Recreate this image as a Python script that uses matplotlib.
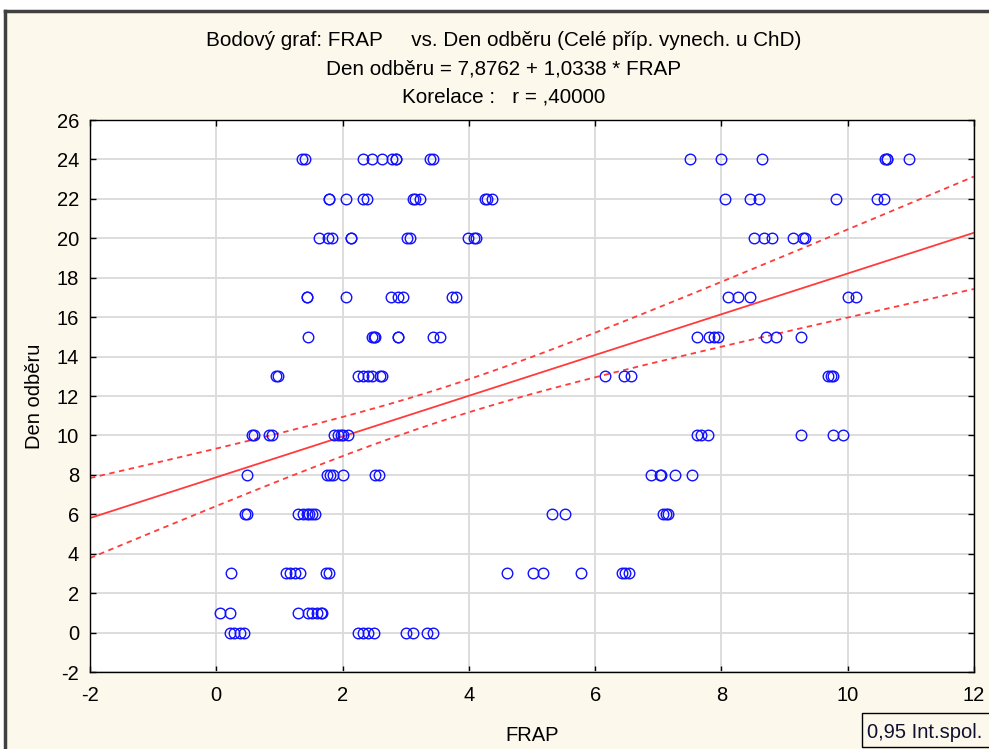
import matplotlib
matplotlib.use("Agg")
import matplotlib.pyplot as plt
from matplotlib.patches import Rectangle
import numpy as np

plt.rcParams['font.family'] = ['Liberation Sans', 'DejaVu Sans']
plt.rcParams['axes.unicode_minus'] = False

# ---- data: FRAP values grouped by "Den odběru" ----
den_levels = [24, 22, 20, 17, 15, 13, 10, 8, 6, 3, 1, 0]
frap_d24 = [1.35, 1.41, 2.33, 2.47, 2.63, 2.79, 2.84, 2.84, 3.39, 3.44, 7.50, 8.00, 8.64, 10.59, 10.62, 10.62, 10.97]
frap_d22 = [1.79, 1.79, 2.06, 2.33, 2.38, 3.11, 3.15, 3.22, 4.25, 4.29, 4.36, 8.05, 8.45, 8.59, 9.81, 10.46, 10.57]
frap_d20 = [1.62, 1.77, 1.84, 2.14, 2.14, 3.02, 3.06, 3.99, 4.08, 4.11, 8.51, 8.67, 8.80, 9.13, 9.29, 9.32]
frap_d17 = [1.43, 1.43, 2.06, 2.76, 2.87, 2.95, 3.74, 3.79, 8.11, 8.26, 8.45, 10.00, 10.13]
frap_d15 = [1.46, 2.47, 2.50, 2.52, 2.87, 2.87, 3.44, 3.55, 7.61, 7.81, 7.89, 7.94, 8.70, 8.87, 9.26]
frap_d13 = [0.94, 0.97, 2.25, 2.33, 2.41, 2.47, 2.60, 2.63, 6.16, 6.45, 6.56, 9.68, 9.73, 9.76]
frap_d10 = [0.57, 0.59, 0.84, 0.88, 1.86, 1.93, 1.98, 2.01, 2.08, 7.62, 7.67, 7.78, 9.26, 9.76, 9.92]
frap_d8 = [0.48, 1.76, 1.80, 1.85, 2.01, 2.52, 2.57, 6.88, 7.02, 7.04, 7.26, 7.53]
frap_d6 = [0.46, 0.48, 1.30, 1.37, 1.44, 1.47, 1.52, 1.57, 5.31, 5.53, 7.07, 7.13, 7.15]
frap_d3 = [0.24, 1.10, 1.17, 1.24, 1.33, 1.73, 1.79, 4.61, 5.01, 5.17, 5.78, 6.43, 6.48, 6.53]
frap_d1 = [0.06, 0.22, 1.30, 1.45, 1.52, 1.60, 1.66, 1.68]
frap_d0 = [0.22, 0.28, 0.38, 0.44, 2.25, 2.33, 2.41, 2.49, 3.00, 3.11, 3.34, 3.44]
frap_groups = [frap_d24, frap_d22, frap_d20, frap_d17, frap_d15, frap_d13,
               frap_d10, frap_d8, frap_d6, frap_d3, frap_d1, frap_d0]

# regression (from title) and confidence band parameters
intercept = 7.8762
slope = 1.0338
band_a = 0.69     # variance term at center
band_b = 0.107    # curvature term
band_center = 3.66

x_ticks = [-2, 0, 2, 4, 6, 8, 10, 12]
y_ticks = [-2, 0, 2, 4, 6, 8, 10, 12, 14, 16, 18, 20, 22, 24, 26]

title_lines = ["Bodový graf: FRAP     vs. Den odběru (Celé příp. vynech. u ChD)",
               "Den odběru = 7,8762 + 1,0338 * FRAP",
               "Korelace :   r = ,40000"]

FS = 14.5
FS_T = 14.9

# ---- figure ----
W, H = 989, 749
fig = plt.figure(figsize=(W / 100, H / 100), dpi=100)
fig.patch.set_facecolor('white')
cream = '#FDF8EC'
bg = Rectangle((5 / W, 0), 1, 1 - 11 / H, transform=fig.transFigure,
               facecolor=cream, edgecolor='none', zorder=-10)
fig.patches.append(bg)
fig.add_artist(plt.Line2D([5 / W, 1], [1 - 11 / H, 1 - 11 / H], transform=fig.transFigure,
                          color='#404040', lw=2.5))
fig.add_artist(plt.Line2D([5 / W, 5 / W], [0, 1 - 11 / H], transform=fig.transFigure,
                          color='#404040', lw=2.5))

ax = fig.add_axes([90 / W, 1 - 672 / H, (974 - 90) / W, (672 - 120) / H])
ax.set_facecolor('white')

for d, xs in zip(den_levels, frap_groups):
    ax.plot(xs, [d] * len(xs), linestyle='none', marker='o', markersize=7.6,
            markerfacecolor='none', markeredgecolor='#1010FF', markeredgewidth=1.0, zorder=3)

xl = np.linspace(-2, 12, 200)
yl = intercept + slope * xl
half = np.sqrt(band_a + band_b * (xl - band_center) ** 2)
ax.plot(xl, yl, color='#FF3B3B', lw=1.3, zorder=2)
ax.plot(xl, yl + half, color='#FF3B3B', lw=1.3, ls=(0, (3, 2.5)), zorder=2)
ax.plot(xl, yl - half, color='#FF3B3B', lw=1.3, ls=(0, (3, 2.5)), zorder=2)

ax.set_xlim(-2, 12)
ax.set_ylim(-2, 26)
ax.set_xticks(x_ticks)
ax.set_yticks(y_ticks)
ax.grid(True, color='#DADADA', lw=1.3, zorder=0)
ax.set_axisbelow(True)
ax.tick_params(axis='both', direction='in', length=4, width=1, top=True, right=True,
               labelsize=FS, colors='black')
ax.tick_params(axis='x', pad=10)
ax.tick_params(axis='y', pad=8)
for s in ax.spines.values():
    s.set_color('black')
    s.set_linewidth(1.0)

ax.set_xlabel('FRAP', fontsize=FS, labelpad=15)
ax.set_ylabel('Den odběru', fontsize=FS, labelpad=9)

for i, t in enumerate(title_lines):
    fig.text(504 / W, 1 - (41 + 28 * i) / H, t, ha='center', va='center', fontsize=FS_T)

fig.text(867 / W, 1 - 733 / H, '0,95 Int.spol.', ha='left', va='center', fontsize=FS,
         color='#101030')
fig.add_artist(Rectangle((862 / W, 1 - 747 / H), 140 / W, 34 / H, transform=fig.transFigure,
                         facecolor='none', edgecolor='black', lw=1.0))

fig.savefig('out.png', dpi=100, facecolor=fig.get_facecolor())
